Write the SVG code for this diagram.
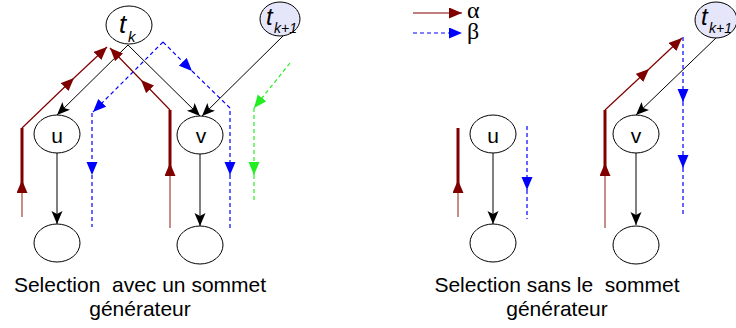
<svg xmlns="http://www.w3.org/2000/svg" width="736" height="328" viewBox="0 0 736 328">
<style>
.node{fill:#fff;stroke:#000;stroke-width:1}
.gen{fill:#e6e6fa;stroke:#000;stroke-width:1}
.lbl{font-family:"Liberation Sans",Arial,sans-serif;fill:#000}
.gr{font-family:"Liberation Serif","Times New Roman",serif;fill:#000}
.it{font-family:"Liberation Sans",Arial,sans-serif;font-style:italic;fill:#000}
.blk{stroke:#000;stroke-width:1;fill:none;marker-end:url(#mk)}
.red{stroke:#800000;stroke-width:1.2;fill:none}
.redt{stroke:#800000;stroke-width:3;fill:none}
.redl{stroke:#800000;stroke-opacity:0.6;stroke-width:1.5;fill:none}
.blu{stroke:#0000ff;stroke-width:1.2;stroke-dasharray:4,3;fill:none}
.grn{stroke:#22ee22;stroke-width:1.2;stroke-dasharray:4,3;fill:none}
.ar{marker-end:url(#mr)}
.ab{marker-end:url(#mb)}
.ag{marker-end:url(#mg)}
</style>
<defs>
<marker id="mk" markerUnits="userSpaceOnUse" markerWidth="14" markerHeight="12" refX="13" refY="5.5" orient="auto"><path d="M0,0 L13,5.5 L0,11 L3,5.5 z" fill="#000"/></marker>
<marker id="mr" markerUnits="userSpaceOnUse" markerWidth="14" markerHeight="12" refX="13" refY="5.5" orient="auto"><path d="M0,0 L13,5.5 L0,11 z" fill="#800000"/></marker>
<marker id="mb" markerUnits="userSpaceOnUse" markerWidth="14" markerHeight="12" refX="13" refY="5.5" orient="auto"><path d="M0,0 L13,5.5 L0,11 z" fill="#0000ff"/></marker>
<marker id="mg" markerUnits="userSpaceOnUse" markerWidth="14" markerHeight="12" refX="13" refY="5.5" orient="auto"><path d="M0,0 L13,5.5 L0,11 z" fill="#22ee22"/></marker>
</defs>
<rect width="736" height="328" fill="#fff"/>

<g id="connectors">
<line class="blk" x1="128" y1="45" x2="57" y2="115"/>
<line class="blk" x1="128" y1="45" x2="200" y2="116"/>
<line class="blk" x1="283" y1="36" x2="202" y2="116"/>
<line class="blk" x1="57" y1="153" x2="57" y2="224"/>
<line class="blk" x1="200" y1="154" x2="200" y2="226"/>
<line class="redl ar" x1="22" y1="217" x2="22" y2="180"/>
<line class="redt" x1="22" y1="192" x2="22" y2="128"/>
<line class="red ar" x1="22" y1="128" x2="74" y2="78"/>
<line class="red ar" x1="74" y1="78" x2="107" y2="47"/>
<line class="redl ar" x1="170" y1="228" x2="170" y2="163"/>
<line class="redt" x1="170" y1="175" x2="170" y2="110"/>
<line class="red ar" x1="170" y1="110" x2="141" y2="80"/>
<line class="red ar" x1="141" y1="80" x2="110" y2="48"/>
<line class="blu ab" x1="163" y1="42" x2="93" y2="112"/>
<line class="blu ab" x1="92" y1="113" x2="92" y2="175"/>
<line class="blu" x1="92" y1="175" x2="92" y2="227"/>
<line class="blu ab" x1="163" y1="42" x2="192" y2="71"/>
<polyline class="blu ab" points="192,71 230,108 230,175"/>
<line class="blu" x1="230" y1="175" x2="230" y2="228"/>
<line class="grn ag" x1="290" y1="63" x2="254" y2="108"/>
<line class="grn ag" x1="254" y1="108" x2="254" y2="175"/>
<line class="grn" x1="254" y1="175" x2="254" y2="203"/>
<line class="red ar" x1="413" y1="13" x2="462" y2="13"/>
<line class="blu ab" x1="413" y1="33" x2="462" y2="33"/>
<line class="blk" x1="717" y1="37" x2="636" y2="115"/>
<line class="blk" x1="493" y1="153" x2="493" y2="224"/>
<line class="blk" x1="636" y1="153" x2="636" y2="225"/>
<line class="redl ar" x1="458" y1="217" x2="458" y2="180"/>
<line class="redt" x1="458" y1="192" x2="458" y2="128"/>
<line class="redl ar" x1="605" y1="228" x2="605" y2="163"/>
<line class="redt" x1="605" y1="175" x2="605" y2="110"/>
<line class="red ar" x1="605" y1="110" x2="649" y2="69"/>
<line class="red ar" x1="649" y1="69" x2="682" y2="38"/>
<line class="blu ab" x1="527" y1="126" x2="527" y2="190"/>
<line class="blu" x1="527" y1="190" x2="527" y2="219"/>
<line class="blu ab" x1="683" y1="37" x2="683" y2="102"/>
<line class="blu ab" x1="683" y1="102" x2="683" y2="168"/>
<line class="blu" x1="683" y1="168" x2="683" y2="217"/>
</g>

<g id="tk">
<ellipse class="node" cx="129" cy="25" rx="23" ry="19"/>
<text class="it" x="119" y="33" font-size="26">t</text>
<text class="it" x="128" y="42" font-size="15">k</text>
</g>
<g id="tk1_left">
<ellipse class="gen" cx="280" cy="19" rx="20" ry="17"/>
<text class="it" x="266" y="25" font-size="24">t</text>
<text class="it" x="274" y="33" font-size="14">k+1</text>
</g>
<g id="u_left">
<ellipse class="node" cx="57" cy="134" rx="23" ry="19"/>
<text class="lbl" x="57" y="143" font-size="21" text-anchor="middle">u</text>
</g>
<g id="u_left_child">
<ellipse class="node" cx="57" cy="243" rx="23" ry="19"/>
</g>
<g id="v_left">
<ellipse class="node" cx="200" cy="135" rx="23" ry="19"/>
<text class="lbl" x="201" y="143" font-size="21" text-anchor="middle">v</text>
</g>
<g id="v_left_child">
<ellipse class="node" cx="200" cy="245" rx="23" ry="19"/>
</g>

<g id="legend">
<text class="gr" x="467" y="18" font-size="24">α</text>
<text class="gr" x="467" y="39" font-size="24">β</text>
</g>

<g id="tk1_right">
<ellipse class="gen" cx="716" cy="20" rx="21" ry="18"/>
<text class="it" x="701" y="25" font-size="24">t</text>
<text class="it" x="709" y="33" font-size="14">k+1</text>
</g>
<g id="u_right">
<ellipse class="node" cx="493" cy="134" rx="23" ry="19"/>
<text class="lbl" x="493" y="143" font-size="21" text-anchor="middle">u</text>
</g>
<g id="u_right_child">
<ellipse class="node" cx="493" cy="243" rx="23" ry="19"/>
</g>
<g id="v_right">
<ellipse class="node" cx="636" cy="134" rx="23" ry="19"/>
<text class="lbl" x="636" y="143" font-size="21" text-anchor="middle">v</text>
</g>
<g id="v_right_child">
<ellipse class="node" cx="636" cy="245" rx="23" ry="19"/>
</g>

<g id="captions">
<text class="lbl" x="140" y="292" font-size="21" text-anchor="middle" xml:space="preserve">Selection  avec un sommet</text>
<text class="lbl" x="140" y="316" font-size="21" text-anchor="middle">générateur</text>
<text class="lbl" x="557" y="292" font-size="21" text-anchor="middle" xml:space="preserve">Selection sans le  sommet</text>
<text class="lbl" x="557" y="316" font-size="21" text-anchor="middle">générateur</text>
</g>
</svg>
